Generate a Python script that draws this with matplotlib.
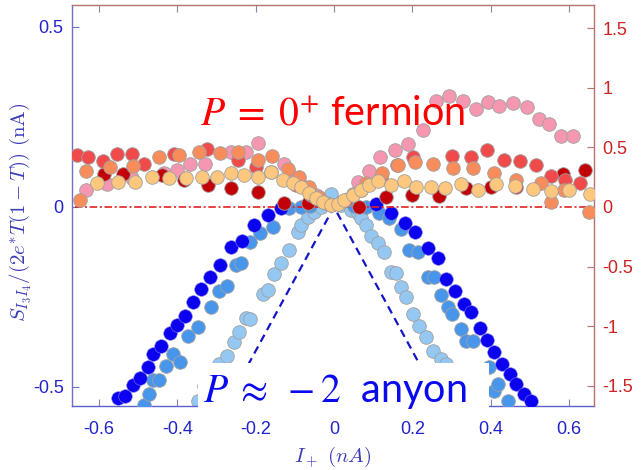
import matplotlib
matplotlib.use("Agg")
import matplotlib.pyplot as plt
from matplotlib.patches import Rectangle

plt.rcParams["font.family"] = ["Liberation Sans", "DejaVu Sans"]
plt.rcParams["axes.unicode_minus"] = False

# ---------------- cross-correlation (left axis, nA) ----------------
blue_dark_x = [-0.551, -0.534, -0.513, -0.495, -0.476, -0.461, -0.442, -0.419, -0.401,
               -0.380, -0.361, -0.340, -0.317, -0.291, -0.263, -0.236, -0.204, -0.169,
               -0.135, 0.107, 0.146, 0.181, 0.207, 0.239, 0.265, 0.287, 0.310, 0.331,
               0.350, 0.373, 0.391, 0.409, 0.429, 0.450, 0.466, 0.485, 0.502]
blue_dark_y = [-0.532, -0.525, -0.494, -0.474, -0.446, -0.409, -0.387, -0.351, -0.328,
               -0.304, -0.265, -0.227, -0.195, -0.162, -0.111, -0.094, -0.050, -0.022,
               -0.003, 0.008, -0.018, -0.044, -0.069, -0.114, -0.143, -0.200, -0.234,
               -0.269, -0.291, -0.337, -0.370, -0.404, -0.435, -0.463, -0.491, -0.519,
               -0.539]

blue_mid_x = [-0.486, -0.472, -0.461, -0.446, -0.429, -0.412, -0.393, -0.374, -0.347,
              -0.314, -0.293, -0.273, -0.250, -0.238, -0.214, -0.188, -0.156, -0.115,
              -0.085, -0.060, 0.051, 0.082, 0.116, 0.141, 0.171, 0.192, 0.215, 0.239,
              0.256, 0.273, 0.290, 0.301, 0.324, 0.337, 0.354, 0.397, 0.409, 0.418,
              0.444]
blue_mid_y = [-0.550, -0.520, -0.480, -0.480, -0.441, -0.409, -0.432, -0.358, -0.334,
              -0.278, -0.234, -0.221, -0.162, -0.156, -0.097, -0.073, -0.056, -0.003,
              0.000, 0.003, 0.003, 0.000, -0.016, -0.032, -0.060, -0.120, -0.125,
              -0.195, -0.196, -0.244, -0.277, -0.297, -0.339, -0.372, -0.372, -0.444,
              -0.511, -0.492, -0.539]

blue_light_x = [-0.348, -0.332, -0.314, -0.293, -0.272, -0.255, -0.242, -0.225, -0.214,
                -0.182, -0.169, -0.152, -0.135, -0.114, -0.093, -0.084, -0.067, -0.050,
                -0.033, -0.008, 0.018, 0.043, 0.061, 0.069, 0.082, 0.095, 0.112, 0.128,
                0.146, 0.158, 0.171, 0.184, 0.201, 0.218, 0.235, 0.252, 0.273, 0.286,
                0.300, 0.315, 0.330]
blue_light_y = [-0.539, -0.497, -0.469, -0.437, -0.415, -0.376, -0.348, -0.308, -0.311,
                -0.241, -0.232, -0.185, -0.157, -0.120, -0.069, -0.050, -0.027, -0.013,
                0.001, 0.036, 0.006, -0.008, -0.017, -0.032, -0.050, -0.081, -0.101,
                -0.125, -0.181, -0.184, -0.223, -0.251, -0.297, -0.332, -0.362, -0.399,
                -0.423, -0.437, -0.470, -0.500, -0.530]

# P = -2 prediction
pred_x = [-0.35, 0.0, 0.35]
pred_y = [-0.70, 0.0, -0.70]

# ---------------- auto-correlation (right axis, nA) ----------------
pink_x = [-0.633, -0.580, -0.517, -0.433, -0.401, -0.367, -0.330, -0.263, -0.225, -0.195,
          -0.128, -0.112, -0.084, -0.046, -0.008, 0.061, 0.090, 0.118, 0.156, 0.190,
          0.227, 0.261, 0.294, 0.329, 0.363, 0.393, 0.422, 0.456, 0.493, 0.524, 0.550,
          0.580, 0.610]
pink_y = [0.142, 0.189, 0.239, 0.281, 0.308, 0.364, 0.358, 0.461, 0.461, 0.536,
          0.364, 0.267, 0.183, 0.100, 0.017, 0.211, 0.303, 0.419, 0.475, 0.531,
          0.648, 0.892, 0.933, 0.892, 0.823, 0.878, 0.850, 0.869, 0.836, 0.739, 0.698,
          0.592, 0.592]

darkred_x = [-0.587, -0.540, -0.438, -0.382, -0.321, -0.262, -0.195, -0.128, -0.067,
             0.065, 0.134, 0.199, 0.269, 0.337, 0.401, 0.465, 0.585, 0.640]
darkred_y = [0.275, 0.275, 0.267, 0.225, 0.188, 0.158, 0.125, 0.031, 0.036,
             0.000, 0.086, 0.100, 0.089, 0.156, 0.169, 0.171, 0.278, 0.308]

red_x = [-0.656, -0.628, -0.591, -0.555, -0.517, -0.485, -0.408, -0.324, -0.244, -0.200,
         -0.161, -0.097, -0.059, -0.020, 0.031, 0.069, 0.120, 0.161, 0.201, 0.301, 0.349,
         0.390, 0.434, 0.476, 0.517, 0.555, 0.591, 0.628]
red_y = [0.433, 0.419, 0.383, 0.442, 0.442, 0.364, 0.442, 0.489, 0.398, 0.338,
         0.292, 0.183, 0.100, 0.033, 0.058, 0.142, 0.242, 0.350, 0.419, 0.429, 0.418,
         0.478, 0.394, 0.389, 0.354, 0.260, 0.225, 0.203]

salmon_x = [-0.648, -0.632, -0.571, -0.512, -0.447, -0.397, -0.344, -0.292, -0.244,
            -0.195, -0.157, -0.118, -0.089, -0.064, -0.038, -0.013, 0.018, 0.049, 0.082,
            0.123, 0.163, 0.207, 0.253, 0.304, 0.356, 0.409, 0.464, 0.529, 0.554, 0.588,
            0.652]
salmon_y = [0.058, 0.300, 0.333, 0.342, 0.417, 0.433, 0.461, 0.454, 0.465,
            0.392, 0.429, 0.322, 0.253, 0.167, 0.083, 0.025, 0.042, 0.108, 0.200,
            0.281, 0.356, 0.379, 0.358, 0.325, 0.325, 0.288, 0.225, 0.203, 0.044, 0.142,
            -0.042]

lightorange_x = [-0.604, -0.552, -0.508, -0.464, -0.421, -0.378, -0.337, -0.299, -0.263,
                 -0.229, -0.195, -0.160, -0.131, -0.105, -0.084, -0.063, -0.046, -0.029,
                 -0.008, 0.009, 0.026, 0.048, 0.069, 0.090, 0.112, 0.146, 0.178, 0.209,
                 0.248, 0.284, 0.324, 0.369, 0.414, 0.461, 0.508, 0.554, 0.601, 0.654]
lightorange_y = [0.203, 0.211, 0.211, 0.253, 0.239, 0.244, 0.253, 0.250, 0.288,
                 0.267, 0.253, 0.292, 0.225, 0.200, 0.169, 0.114, 0.072, 0.044,
                 0.017, 0.022, 0.058, 0.100, 0.142, 0.183, 0.217, 0.183, 0.214, 0.167,
                 0.171, 0.163, 0.193, 0.145, 0.189, 0.179, 0.148, 0.133, 0.142, 0.108]

zero_x = [-0.70, 0.70]
zero_y = [0.0, 0.0]

left_ticks = [-0.5, 0, 0.5]
left_ticklabels = ["-0.5", "0", "0.5"]
right_ticks = [-1.5, -1, -0.5, 0, 0.5, 1, 1.5]
right_ticklabels = ["-1.5", "-1", "-0.5", "0", "0.5", "1", "1.5"]
x_ticks = [-0.6, -0.4, -0.2, 0, 0.2, 0.4, 0.6]
x_ticklabels = ["-0.6", "-0.4", "-0.2", "0", "0.2", "0.4", "0.6"]

BLUE_TXT = "#2222cc"
RED_TXT = "#cc2222"
BLUE_SPINE = "#7070c8"
RED_SPINE = "#b87070"
EDGE = "#a0a0a0"

W, H = 642, 470
fig = plt.figure(figsize=(W / 100, H / 100), dpi=100)
ax = fig.add_axes([72 / W, 64 / H, 522 / W, 401 / H])
ax.set_xlim(-0.669, 0.664)
ax.set_ylim(-0.553, 0.561)

ms = 96
ax.plot(pred_x, pred_y, color="#1414c8", lw=1.6, dashes=(3.6, 2.4), zorder=1)
ax.scatter(blue_light_x, blue_light_y, s=ms, c="#95c7f3", edgecolors=EDGE, linewidths=0.6, zorder=2)
ax.scatter(blue_mid_x, blue_mid_y, s=ms, c="#4896ec", edgecolors=EDGE, linewidths=0.6, zorder=3)
ax.scatter(blue_dark_x, blue_dark_y, s=ms, c="#0c00f0", edgecolors="#8080e0", linewidths=0.4, zorder=4)

ax.set_xticks(x_ticks)
ax.set_xticklabels(x_ticklabels)
ax.set_yticks(left_ticks)
ax.set_yticklabels(left_ticklabels)
ax.tick_params(axis="x", direction="in", length=5, width=0.8, top=True, color="#9080a8",
               labelsize=13, labelcolor=BLUE_TXT, pad=11)
ax.tick_params(axis="y", direction="in", length=5, width=0.8, color=BLUE_SPINE,
               labelsize=13, labelcolor=BLUE_TXT, pad=6)
ax.spines["left"].set_color(BLUE_SPINE)
ax.spines["bottom"].set_color("#5e5ed4")
ax.spines["top"].set_color(RED_SPINE)
ax.spines["right"].set_visible(False)
for s in ax.spines.values():
    s.set_linewidth(1.0)

ax.set_ylabel(r"$S_{I_3I_4}/(2e^{*}T(1-T))\ \mathrm{(nA)}$", math_fontfamily="cm",
              fontsize=15, color="#3c3cb8")
ax.yaxis.set_label_coords(-0.072, 0.484)
ax.set_xlabel(r"$I_+\ (nA)$", math_fontfamily="cm", fontsize=15, color="#3c3cb8")
ax.xaxis.set_label_coords(0.5, -0.095)

ax2 = ax.twinx()
ax2.set_ylim(-1.668, 1.693)
ax2.plot(zero_x, zero_y, color="#e02020", lw=1.2, dashes=(4.5, 1.6, 1.2, 1.6), zorder=1)
kw = dict(s=ms, edgecolors=EDGE, linewidths=0.6)
ax2.scatter(pink_x, pink_y, c="#f597b0", zorder=2, **kw)
ax2.scatter(darkred_x, darkred_y, c="#c20008", zorder=3, **kw)
ax2.scatter(red_x, red_y, c="#f04a4a", zorder=4, **kw)
ax2.scatter(salmon_x, salmon_y, c="#f88c5a", zorder=5, **kw)
ax2.scatter(lightorange_x, lightorange_y, c="#fdc77e", zorder=6, **kw)
ax2.set_yticks(right_ticks)
ax2.set_yticklabels(right_ticklabels)
ax2.tick_params(axis="y", direction="in", length=5, width=0.8, color=RED_SPINE,
                labelsize=13, labelcolor=RED_TXT, pad=6)
ax2.spines["right"].set_color(RED_SPINE)
ax2.spines["right"].set_linewidth(1.0)
for side in ("left", "top", "bottom"):
    ax2.spines[side].set_visible(False)
ax2.set_xlim(ax.get_xlim())

# annotations
fig.text(333 / W, 1 - 125 / H, r"$P\;=\;0^{+}$ fermion", math_fontfamily="stix",
         family=["Lato", "DejaVu Sans"], fontsize=28.5, color="#ff0000",
         ha="center", va="baseline", zorder=10)
fig.add_artist(Rectangle((198 / W, 1 - 412 / H), (489 - 198) / W, (412 - 363) / H,
                         transform=fig.transFigure, facecolor="white", edgecolor="none",
                         zorder=9))
fig.text(335 / W, 1 - 402 / H, r"$P\;\approx\;-2$  anyon", math_fontfamily="stix",
         family=["Lato", "DejaVu Sans"], fontsize=28.5, color="#0a0aee",
         ha="center", va="baseline", zorder=10)

fig.savefig("out.png", dpi=100)
